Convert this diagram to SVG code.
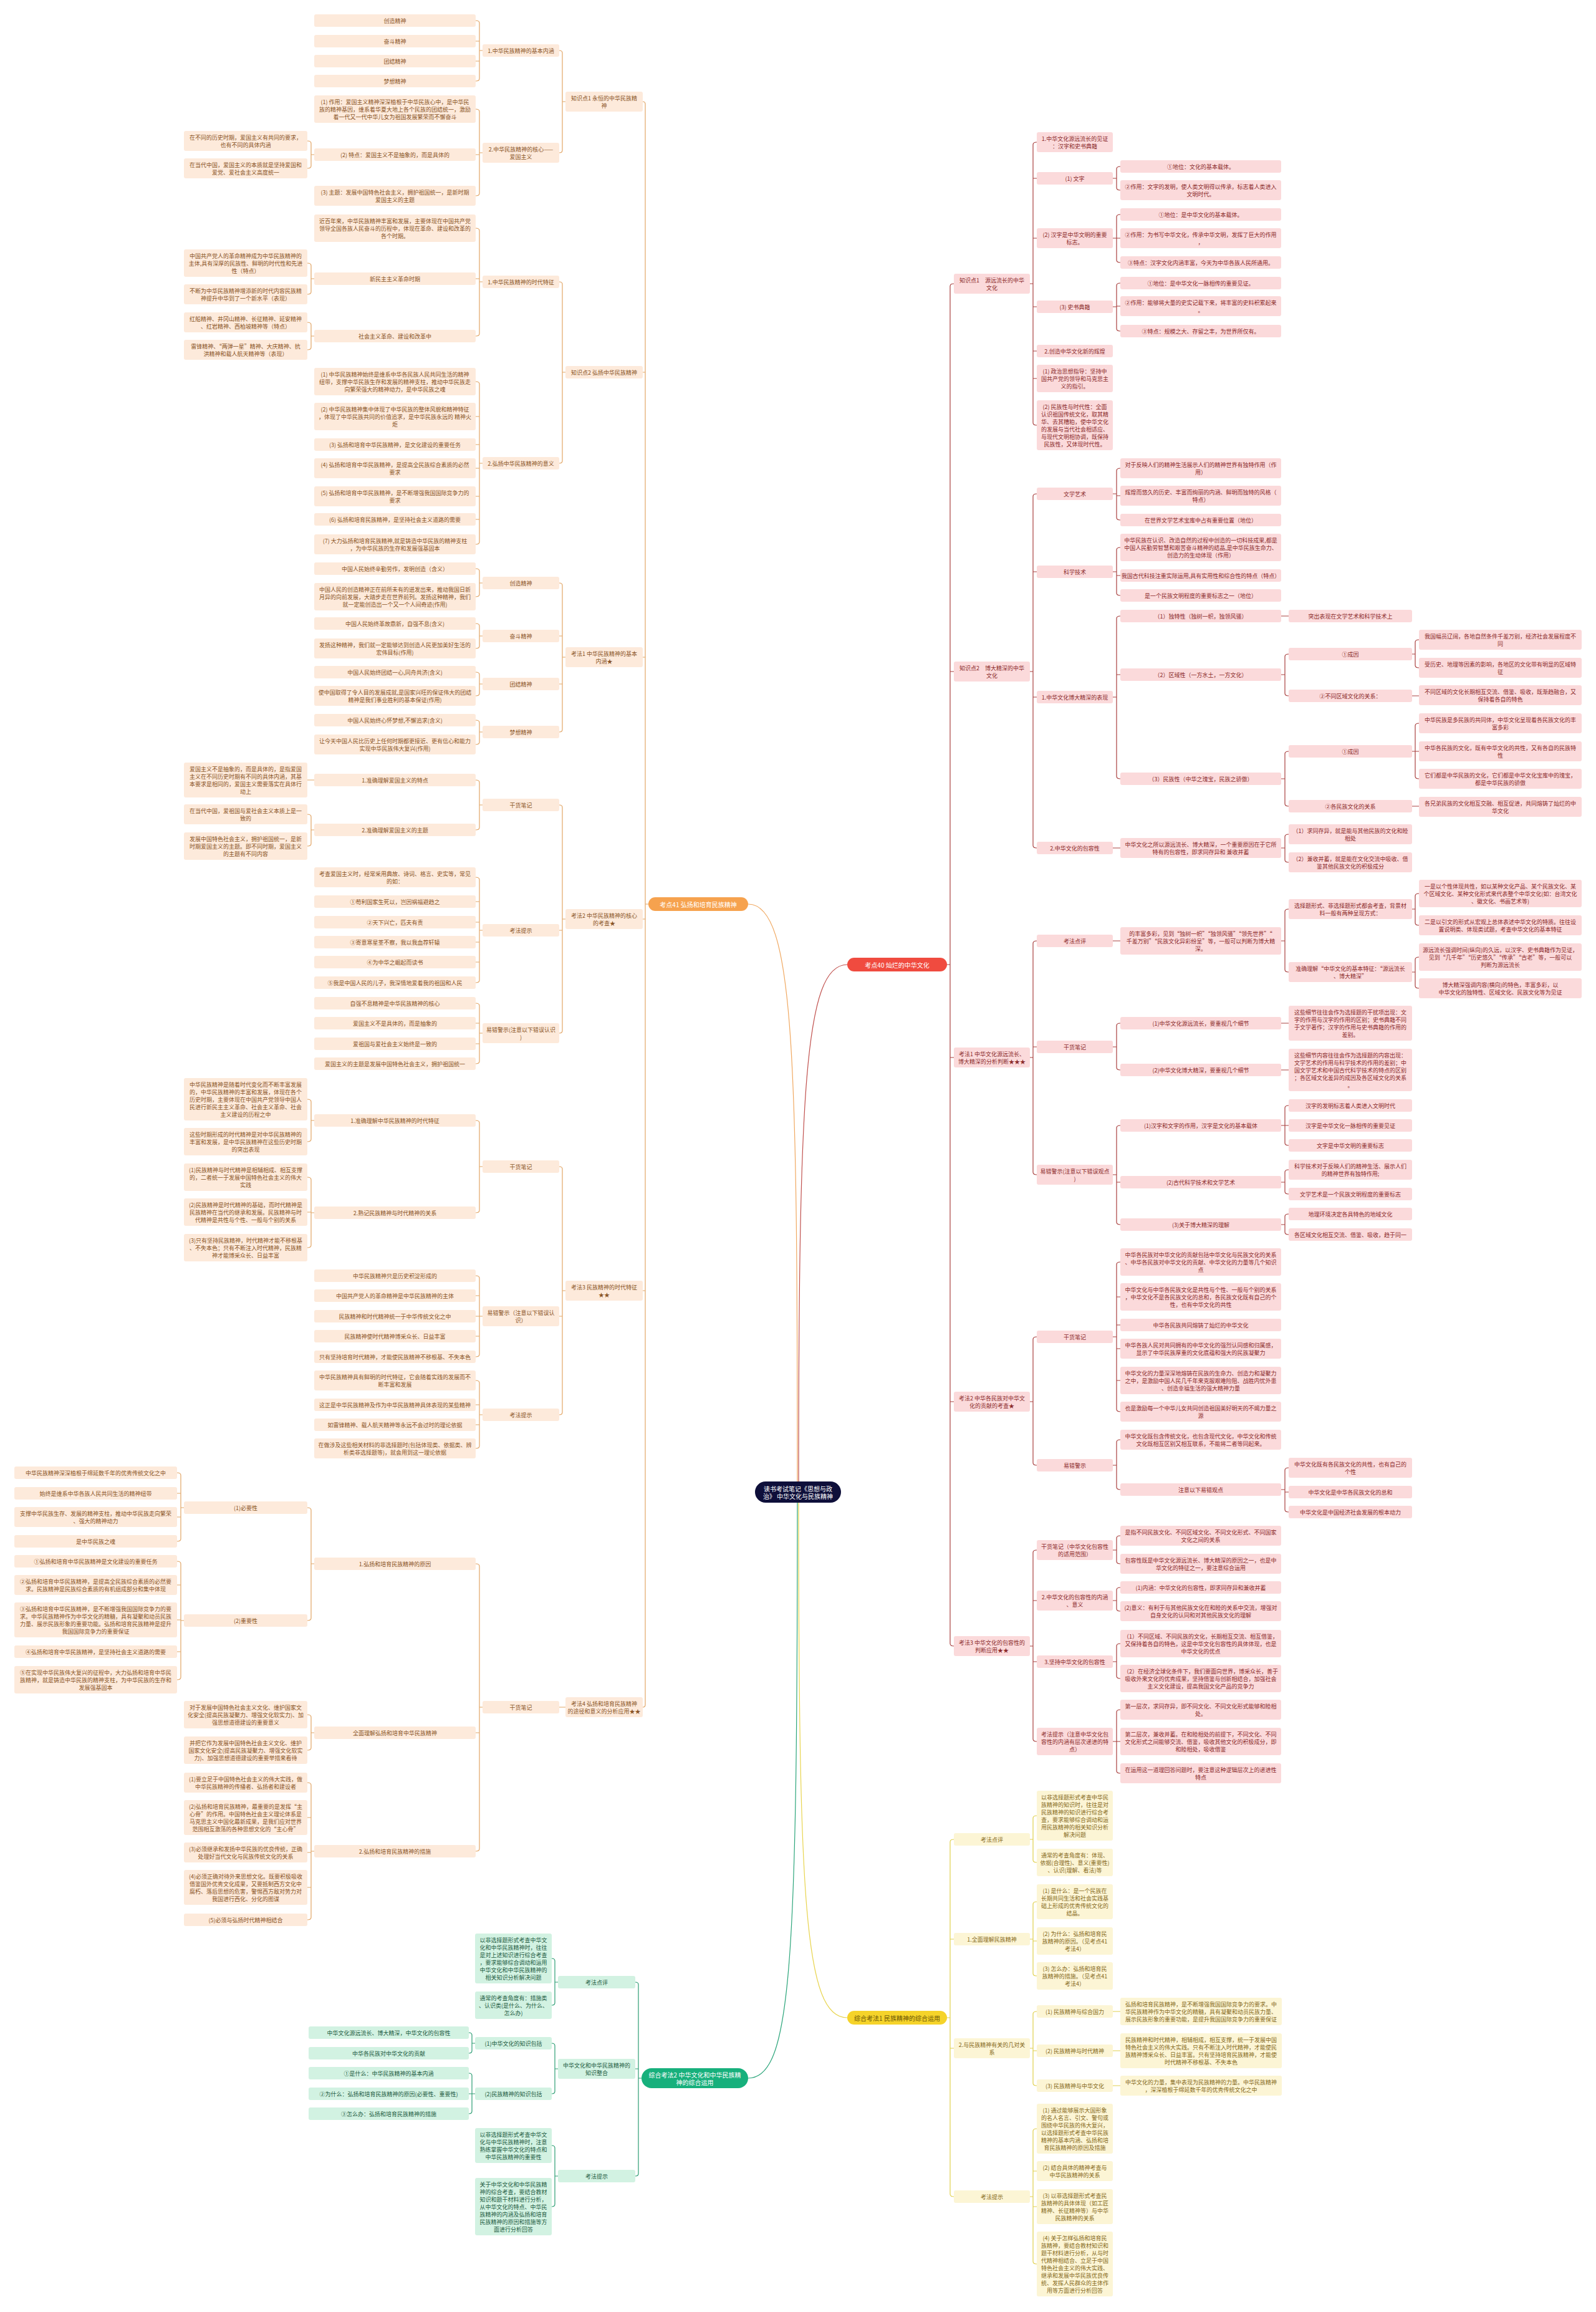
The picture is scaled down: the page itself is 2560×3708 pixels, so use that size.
<svg xmlns="http://www.w3.org/2000/svg" width="2560" height="3708" viewBox="0 0 2560 3708">
<style>
text{font-family:"Noto Sans CJK SC","Noto Sans",sans-serif;font-size:9px;text-anchor:middle;dominant-baseline:central}
.o rect{fill:#FDEADB;rx:3px}.o text{fill:#8A5426}
.r rect{fill:#FBDADB;rx:3px}.r text{fill:#8C2B2B}
.y rect{fill:#FCF5D5;rx:3px}.y text{fill:#86691A}
.g rect{fill:#D2F2E2;rx:3px}.g text{fill:#1C5A41}
.m text{font-size:10px;fill:#fff}
#connectors path{fill:none;stroke-width:1.2}
.lo{stroke:#E2A565}.lr{stroke:#A9403F}.ly{stroke:#E0D04C}.lg{stroke:#2C9D73}
</style>
<rect width="2560" height="3708" fill="#fff"/>
<g id="connectors">
<path d="M1279,2393C1279,1700 1275,1450 1200,1450" stroke="#F0A860"/>
<path d="M1281,2393C1281,1750 1290,1547 1359,1547" stroke="#C0504D"/>
<path d="M1281,2393C1281,3050 1290,3236 1359,3236" stroke="#E8D44D"/>
<path d="M1279,2393C1279,3150 1270,3333 1200,3333" stroke="#2BA57A"/>
<path class="lo" d="M1040,1450H1035M1031,163Q1035,163 1035,167V2734Q1035,2738 1031,2738M1035,597H1031M1035,1054H1031M1035,1474H1031M1035,2070H1031"/>
<path class="lo" d="M907,163H902M897,81Q902,81 902,85V241Q902,245 897,245M907,597H902M897,452Q902,452 902,456V739Q902,743 897,743M907,1054H902M897,935Q902,935 902,939V1170Q902,1174 897,1174M902,1020H897M902,1097H897M907,1474H902M897,1291Q902,1291 902,1295V1653Q902,1657 897,1657M902,1492H897M907,2070H902M897,1871Q902,1871 902,1875V2265Q902,2269 897,2269M902,2111H897M907,2738H897"/>
<path class="lo" d="M774,81H769M763,33Q769,33 769,37V126Q769,130 763,130M769,66H763M769,98H763M774,245H769M763,175Q769,175 769,179V310Q769,314 763,314M769,248H763M774,452H769M763,366Q769,366 769,370V535Q769,539 763,539M769,447H763M774,743H769M763,612Q769,612 769,616V869Q769,873 763,873M769,668H763M769,713H763M769,751H763M769,796H763M769,833H763M774,935H769M763,912Q769,912 769,916V953Q769,957 763,957M774,1020H769M763,1000Q769,1000 769,1004V1036Q769,1040 763,1040M774,1097H769M763,1078Q769,1078 769,1082V1112Q769,1116 763,1116M774,1174H769M763,1155Q769,1155 769,1159V1190Q769,1194 763,1194M774,1291H769M763,1251Q769,1251 769,1255V1327Q769,1331 763,1331M774,1492H769M763,1407Q769,1407 769,1411V1572Q769,1576 763,1576M769,1446H763M769,1479H763M769,1511H763M769,1543H763M774,1657H769M763,1609Q769,1609 769,1613V1702Q769,1706 763,1706M769,1641H763M769,1674H763M774,1871H769M763,1797Q769,1797 769,1801V1941Q769,1945 763,1945M774,2111H769M763,2046Q769,2046 769,2050V2172Q769,2176 763,2176M769,2078H763M769,2111H763M769,2143H763M774,2269H769M763,2214Q769,2214 769,2218V2319Q769,2323 763,2323M769,2253H763M769,2285H763M775,2738H769M763,2508Q769,2508 769,2512V2965Q769,2969 763,2969M769,2779H763"/>
<path class="lo" d="M504,248H499M493,226Q499,226 499,230V266Q499,270 493,270M504,447H499M493,422Q499,422 499,426V468Q499,472 493,472M504,539H499M493,517Q499,517 499,521V557Q499,561 493,561M504,1251H493M504,1331H499M493,1306Q499,1306 499,1310V1353Q499,1357 493,1357M504,1797H499M493,1763Q499,1763 499,1767V1827Q499,1831 493,1831M504,1945H499M493,1888Q499,1888 499,1892V1997Q499,2001 493,2001M499,1944H493M504,2508H499M493,2418Q499,2418 499,2422V2595Q499,2599 493,2599M504,2779H499M493,2750Q499,2750 499,2754V2803Q499,2807 493,2807M504,2969H499M493,2859Q499,2859 499,2863V3075Q499,3079 493,3079M499,2915H493M499,2971H493M499,3027H493"/>
<path class="lo" d="M295,2418H290M284,2362Q290,2362 290,2366V2468Q290,2472 284,2472M290,2395H284M290,2433H284M295,2599H290M284,2504Q290,2504 290,2508V2690Q290,2694 284,2694M290,2542H284M290,2598H284M290,2649H284"/>
<path class="lr" d="M1519,1547H1524M1530,455Q1524,455 1524,459V2636Q1524,2640 1530,2640M1524,1077H1530M1524,1696H1530M1524,2248H1530"/>
<path class="lr" d="M1652,455H1657M1663,228Q1657,228 1657,232V678Q1657,682 1663,682M1657,286H1663M1657,382H1663M1657,492H1663M1657,563H1663M1657,607H1663M1652,1077H1657M1663,792Q1657,792 1657,796V1356Q1657,1360 1663,1360M1657,917H1663M1657,1118H1663M1652,1696H1657M1663,1509Q1657,1509 1657,1513V1880Q1657,1884 1663,1884M1657,1679H1663M1652,2248H1657M1663,2144Q1657,2144 1657,2148V2346Q1657,2350 1663,2350M1652,2640H1657M1663,2486Q1657,2486 1657,2490V2789Q1657,2793 1663,2793M1657,2567H1663M1657,2665H1663"/>
<path class="lr" d="M1785,286H1791M1797,267Q1791,267 1791,271V301Q1791,305 1797,305M1785,382H1791M1797,344Q1791,344 1791,348V417Q1791,421 1797,421M1791,382H1797M1785,492H1791M1797,454Q1791,454 1791,458V527Q1791,531 1797,531M1791,491H1797M1785,792H1791M1797,751Q1791,751 1791,755V830Q1791,834 1797,834M1791,795H1797M1785,917H1791M1797,878Q1791,878 1791,882V951Q1791,955 1797,955M1791,923H1797M1785,1118H1791M1797,988Q1791,988 1791,992V1245Q1791,1249 1797,1249M1791,1082H1797M1785,1360H1797M1785,1509H1797M1785,1679H1791M1797,1641Q1791,1641 1791,1645V1712Q1791,1716 1797,1716M1785,1884H1791M1797,1805Q1791,1805 1791,1809V1960Q1791,1964 1797,1964M1791,1896H1797M1785,2144H1791M1797,2024Q1791,2024 1791,2028V2260Q1791,2264 1797,2264M1791,2080H1797M1791,2125H1797M1791,2163H1797M1791,2214H1797M1785,2350H1791M1797,2309Q1791,2309 1791,2313V2385Q1791,2389 1797,2389M1785,2486H1791M1797,2463Q1791,2463 1791,2467V2504Q1791,2508 1797,2508M1785,2567H1791M1797,2546Q1791,2546 1791,2550V2580Q1791,2584 1797,2584M1785,2665H1791M1797,2636Q1791,2636 1791,2640V2688Q1791,2692 1797,2692M1785,2793H1791M1797,2742Q1791,2742 1791,2746V2840Q1791,2844 1797,2844M1791,2793H1797"/>
<path class="lr" d="M2055,988H2067M2055,1082H2061M2067,1049Q2061,1049 2061,1053V1112Q2061,1116 2067,1116M2055,1249H2061M2067,1205Q2061,1205 2061,1209V1289Q2061,1293 2067,1293M2055,1360H2061M2067,1338Q2061,1338 2061,1342V1379Q2061,1383 2067,1383M2055,1509H2061M2067,1458Q2061,1458 2061,1462V1555Q2061,1559 2067,1559M2055,1641H2067M2055,1716H2067M2055,1805H2061M2067,1773Q2061,1773 2061,1777V1833Q2061,1837 2067,1837M2061,1805H2067M2055,1896H2061M2067,1876Q2061,1876 2061,1880V1911Q2061,1915 2067,1915M2055,1964H2061M2067,1947Q2061,1947 2061,1951V1976Q2061,1980 2067,1980M2055,2389H2061M2067,2354Q2061,2354 2061,2358V2421Q2061,2425 2067,2425M2061,2393H2067"/>
<path class="lr" d="M2265,1049H2270M2276,1026Q2270,1026 2270,1030V1067Q2270,1071 2276,1071M2265,1116H2276M2265,1205H2270M2276,1160Q2270,1160 2270,1164V1245Q2270,1249 2276,1249M2270,1205H2276M2265,1293H2276M2265,1458H2270M2276,1433Q2270,1433 2270,1437V1480Q2270,1484 2276,1484M2265,1559H2270M2276,1535Q2270,1535 2270,1539V1581Q2270,1585 2276,1585"/>
<path class="ly" d="M1519,3236H1524M1530,2950Q1524,2950 1524,2954V3519Q1524,3523 1530,3523M1524,3110H1530M1524,3285H1530M1652,2950H1657M1663,2912Q1657,2912 1657,2916V2983Q1657,2987 1663,2987M1652,3110H1657M1663,3050Q1657,3050 1657,3054V3165Q1657,3169 1663,3169M1657,3113H1663M1652,3285H1657M1663,3226Q1657,3226 1657,3230V3341Q1657,3345 1663,3345M1657,3289H1663M1652,3523H1657M1663,3414Q1657,3414 1657,3418V3627Q1657,3631 1663,3631M1657,3482H1663M1657,3539H1663M1785,3226H1797M1785,3289H1797M1785,3345H1797"/>
<path class="lg" d="M1029,3333H1024M1019,3179Q1024,3179 1024,3183V3486Q1024,3490 1019,3490M1024,3318H1019M895,3179H890M885,3141Q890,3141 890,3145V3212Q890,3216 885,3216M895,3318H890M885,3277Q890,3277 890,3281V3354Q890,3358 885,3358M895,3490H890M885,3441Q890,3441 890,3445V3535Q890,3539 885,3539M762,3277H757M752,3260Q757,3260 757,3264V3289Q757,3293 752,3293M762,3358H757M752,3325Q757,3325 757,3329V3386Q757,3390 752,3390M757,3358H752"/>
</g>
<g id="center" class="m"><rect x="1211" y="2376" width="138" height="34" rx="17" fill="#0E0F3A"/><text><tspan x="1280" y="2387">读书考试笔记《思想与政</tspan><tspan x="1280" y="2399">治》 中华文化与民族精神</tspan></text></g>
<g id="main-o" class="m"><rect x="1040" y="1439" width="160" height="22" rx="11" fill="#F6A24E"/><text x="1120" y="1450">考点41  弘扬和培育民族精神</text></g>
<g id="main-r" class="m"><rect x="1359" y="1536" width="160" height="22" rx="11" fill="#F04B3F"/><text x="1439" y="1547">考点40  灿烂的中华文化</text></g>
<g id="main-y" class="m"><rect x="1359" y="3225" width="160" height="22" rx="11" fill="#F5D32A"/><text x="1439" y="3236" style="fill:#6B5605">综合考法1  民族精神的综合运用</text></g>
<g id="main-g" class="m"><rect x="1029" y="3317" width="171" height="32" rx="16" fill="#17B07C"/><text><tspan x="1114.5" y="3327">综合考法2  中华文化和中华民族精</tspan><tspan x="1114.5" y="3339">神的综合运用</tspan></text></g>

<g id="o-l1" class="o">
<g id="ok1"><rect x="907" y="147" width="124" height="32"/><text><tspan x="969" y="157">知识点1  永恒的中华民族精</tspan><tspan x="969" y="169">神</tspan></text></g>
<g id="ok2"><rect x="907" y="587" width="124" height="20"/><text x="969" y="597">知识点2  弘扬中华民族精神</text></g>
<g id="of1"><rect x="907" y="1038" width="124" height="32"/><text><tspan x="969" y="1048">考法1  中华民族精神的基本</tspan><tspan x="969" y="1060">内涵★</tspan></text></g>
<g id="of2"><rect x="907" y="1458" width="124" height="32"/><text><tspan x="969" y="1468">考法2  中华民族精神的核心</tspan><tspan x="969" y="1480">的考查★</tspan></text></g>
<g id="of3"><rect x="907" y="2054" width="124" height="32"/><text><tspan x="969" y="2064">考法3  民族精神的时代特征</tspan><tspan x="969" y="2076">★★</tspan></text></g>
<g id="of4"><rect x="907" y="2722" width="124" height="32"/><text><tspan x="969" y="2732">考法4  弘扬和培育民族精神</tspan><tspan x="969" y="2744">的途径和意义的分析应用★★</tspan></text></g>
</g>
<g id="o-l2" class="o">
<g id="o2a"><rect x="774" y="71" width="123" height="20"/><text x="835.5" y="81">1.中华民族精神的基本内涵</text></g>
<g id="o2b"><rect x="774" y="229" width="123" height="32"/><text><tspan x="835.5" y="239">2.中华民族精神的核心——</tspan><tspan x="835.5" y="251">爱国主义</tspan></text></g>
<g id="o2c"><rect x="774" y="442" width="123" height="20"/><text x="835.5" y="452">1.中华民族精神的时代特征</text></g>
<g id="o2d"><rect x="774" y="733" width="123" height="20"/><text x="835.5" y="743">2.弘扬中华民族精神的意义</text></g>
<g id="o2e"><rect x="774" y="925" width="123" height="20"/><text x="835.5" y="935">创造精神</text></g>
<g id="o2f"><rect x="774" y="1010" width="123" height="20"/><text x="835.5" y="1020">奋斗精神</text></g>
<g id="o2g"><rect x="774" y="1087" width="123" height="20"/><text x="835.5" y="1097">团结精神</text></g>
<g id="o2h"><rect x="774" y="1164" width="123" height="20"/><text x="835.5" y="1174">梦想精神</text></g>
<g id="o2i"><rect x="774" y="1281" width="123" height="20"/><text x="835.5" y="1291">干货笔记</text></g>
<g id="o2j"><rect x="774" y="1482" width="123" height="20"/><text x="835.5" y="1492">考法提示</text></g>
<g id="o2k"><rect x="774" y="1641" width="123" height="32"/><text><tspan x="835.5" y="1651">易错警示(注意以下错误认识</tspan><tspan x="835.5" y="1663">)</tspan></text></g>
<g id="o2l"><rect x="774" y="1861" width="123" height="20"/><text x="835.5" y="1871">干货笔记</text></g>
<g id="o2m"><rect x="774" y="2095" width="123" height="32"/><text><tspan x="835.5" y="2105">易错警示（注意以下错误认</tspan><tspan x="835.5" y="2117">识）</tspan></text></g>
<g id="o2n"><rect x="774" y="2259" width="123" height="20"/><text x="835.5" y="2269">考法提示</text></g>
<g id="o2o"><rect x="774" y="2728" width="123" height="20"/><text x="835.5" y="2738">干货笔记</text></g>
</g>
<g id="o-l3" class="o">
<g id="o3-1"><rect x="504" y="23" width="259" height="20"/><text x="633.5" y="33">创造精神</text></g>
<g id="o3-2"><rect x="504" y="56" width="259" height="20"/><text x="633.5" y="66">奋斗精神</text></g>
<g id="o3-3"><rect x="504" y="88" width="259" height="20"/><text x="633.5" y="98">团结精神</text></g>
<g id="o3-4"><rect x="504" y="120" width="259" height="20"/><text x="633.5" y="130">梦想精神</text></g>
<g id="o3-5"><rect x="504" y="153" width="259" height="44"/><text><tspan x="633.5" y="163">(1) 作用：爱国主义精神深深植根于中华民族心中，是中华民</tspan><tspan x="633.5" y="175">族的精神基因，维系着华夏大地上各个民族的团结统一，激励</tspan><tspan x="633.5" y="187">着一代又一代中华儿女为祖国发展繁荣而不懈奋斗</tspan></text></g>
<g id="o3-6"><rect x="504" y="238" width="259" height="20"/><text x="633.5" y="248">(2) 特点：爱国主义不是抽象的，而是具体的</text></g>
<g id="o3-7"><rect x="504" y="298" width="259" height="32"/><text><tspan x="633.5" y="308">(3) 主题：发展中国特色社会主义，拥护祖国统一，是新时期</tspan><tspan x="633.5" y="320">爱国主义的主题</tspan></text></g>
<g id="o3-8"><rect x="504" y="344" width="259" height="44"/><text><tspan x="633.5" y="354">近百年来，中华民族精神丰富和发展，主要体现在中国共产党</tspan><tspan x="633.5" y="366">领导全国各族人民奋斗的历程中，体现在革命、建设和改革的</tspan><tspan x="633.5" y="378">各个时期。</tspan></text></g>
<g id="o3-9"><rect x="504" y="437" width="259" height="20"/><text x="633.5" y="447">新民主主义革命时期</text></g>
<g id="o3-10"><rect x="504" y="529" width="259" height="20"/><text x="633.5" y="539">社会主义革命、建设和改革中</text></g>
<g id="o3-11"><rect x="504" y="590" width="259" height="44"/><text><tspan x="633.5" y="600">(1) 中华民族精神始终是维系中华各民族人民共同生活的精神</tspan><tspan x="633.5" y="612">纽带，支撑中华民族生存和发展的精神支柱，推动中华民族走</tspan><tspan x="633.5" y="624">向繁荣强大的精神动力，是中华民族之魂</tspan></text></g>
<g id="o3-12"><rect x="504" y="646" width="259" height="44"/><text><tspan x="633.5" y="656">(2) 中华民族精神集中体现了中华民族的整体风貌和精神特征</tspan><tspan x="633.5" y="668">，体现了中华民族共同的价值追求，是中华民族永远的 精神火</tspan><tspan x="633.5" y="680">炬</tspan></text></g>
<g id="o3-13"><rect x="504" y="703" width="259" height="20"/><text x="633.5" y="713">(3) 弘扬和培育中华民族精神，是文化建设的重要任务</text></g>
<g id="o3-14"><rect x="504" y="735" width="259" height="32"/><text><tspan x="633.5" y="745">(4) 弘扬和培育中华民族精神，是提高全民族综合素质的必然</tspan><tspan x="633.5" y="757">要求</tspan></text></g>
<g id="o3-15"><rect x="504" y="780" width="259" height="32"/><text><tspan x="633.5" y="790">(5) 弘扬和培育中华民族精神，是不断增强我国国际竞争力的</tspan><tspan x="633.5" y="802">要求</tspan></text></g>
<g id="o3-16"><rect x="504" y="823" width="259" height="20"/><text x="633.5" y="833">(6) 弘扬和培育民族精神，是坚持社会主义道路的需要</text></g>
<g id="o3-17"><rect x="504" y="857" width="259" height="32"/><text><tspan x="633.5" y="867">(7) 大力弘扬和培育民族精神,就是铸造中华民族的精神支柱</tspan><tspan x="633.5" y="879">，为中华民族的生存和发展强基固本</tspan></text></g>
<g id="o3-18"><rect x="504" y="902" width="259" height="20"/><text x="633.5" y="912">中国人民始终辛勤劳作，发明创造（含义）</text></g>
<g id="o3-19"><rect x="504" y="935" width="259" height="44"/><text><tspan x="633.5" y="945">中国人民的创造精神正在前所未有的迸发出来，推动我国日新</tspan><tspan x="633.5" y="957">月异的向前发展，大踏步走在世界前列。发扬这种精神，我们</tspan><tspan x="633.5" y="969">就一定能创造出一个又一个人间奇迹(作用)</tspan></text></g>
<g id="o3-20"><rect x="504" y="990" width="259" height="20"/><text x="633.5" y="1000">中国人民始终革故鼎新，自强不息(含义)</text></g>
<g id="o3-21"><rect x="504" y="1024" width="259" height="32"/><text><tspan x="633.5" y="1034">发扬这种精神，我们就一定能够达到创造人民更加美好生活的</tspan><tspan x="633.5" y="1046">宏伟目标(作用)</tspan></text></g>
<g id="o3-22"><rect x="504" y="1068" width="259" height="20"/><text x="633.5" y="1078">中国人民始终团结一心,同舟共济(含义)</text></g>
<g id="o3-23"><rect x="504" y="1100" width="259" height="32"/><text><tspan x="633.5" y="1110">使中国取得了令人目的发展成就,是国家兴旺的保证伟大的团结</tspan><tspan x="633.5" y="1122">精神是我们事业胜利的基本保证(作用)</tspan></text></g>
<g id="o3-24"><rect x="504" y="1145" width="259" height="20"/><text x="633.5" y="1155">中国人民始终心怀梦想,不懈追求(含义)</text></g>
<g id="o3-25"><rect x="504" y="1178" width="259" height="32"/><text><tspan x="633.5" y="1188">让今天中国人民比历史上任何时期都更接近、更有信心和能力</tspan><tspan x="633.5" y="1200">实现中华民族伟大复兴(作用)</tspan></text></g>
<g id="o3-26"><rect x="504" y="1241" width="259" height="20"/><text x="633.5" y="1251">1.准确理解爱国主义的特点</text></g>
<g id="o3-27"><rect x="504" y="1321" width="259" height="20"/><text x="633.5" y="1331">2.准确理解爱国主义的主题</text></g>
<g id="o3-28"><rect x="504" y="1391" width="259" height="32"/><text><tspan x="633.5" y="1401">考查爱国主义时，经常采用典故、诗词、格言、史实等，常见</tspan><tspan x="633.5" y="1413">的如：</tspan></text></g>
<g id="o3-29"><rect x="504" y="1436" width="259" height="20"/><text x="633.5" y="1446">①苟利国家生死以，岂因祸福避趋之</text></g>
<g id="o3-30"><rect x="504" y="1469" width="259" height="20"/><text x="633.5" y="1479">②天下兴亡，匹夫有责</text></g>
<g id="o3-31"><rect x="504" y="1501" width="259" height="20"/><text x="633.5" y="1511">③寄意寒星荃不察，我以我血荐轩辕</text></g>
<g id="o3-32"><rect x="504" y="1533" width="259" height="20"/><text x="633.5" y="1543">④为中华之崛起而读书</text></g>
<g id="o3-33"><rect x="504" y="1566" width="259" height="20"/><text x="633.5" y="1576">⑤我是中国人民的儿子，我深情地爱着我的祖国和人民</text></g>
<g id="o3-34"><rect x="504" y="1599" width="259" height="20"/><text x="633.5" y="1609">自强不息精神是中华民族精神的核心</text></g>
<g id="o3-35"><rect x="504" y="1631" width="259" height="20"/><text x="633.5" y="1641">爱国主义不是具体的，而是抽象的</text></g>
<g id="o3-36"><rect x="504" y="1664" width="259" height="20"/><text x="633.5" y="1674">爱祖国与爱社会主义始终是一致的</text></g>
<g id="o3-37"><rect x="504" y="1696" width="259" height="20"/><text x="633.5" y="1706">爱国主义的主题是发展中国特色社会主义，拥护祖国统一</text></g>
<g id="o3-38"><rect x="504" y="1787" width="259" height="20"/><text x="633.5" y="1797">1.准确理解中华民族精神的时代特征</text></g>
<g id="o3-39"><rect x="504" y="1935" width="259" height="20"/><text x="633.5" y="1945">2.熟记民族精神与时代精神的关系</text></g>
<g id="o3-40"><rect x="504" y="2036" width="259" height="20"/><text x="633.5" y="2046">中华民族精神只是历史积淀形成的</text></g>
<g id="o3-41"><rect x="504" y="2068" width="259" height="20"/><text x="633.5" y="2078">中国共产党人的革命精神是中华民族精神的主体</text></g>
<g id="o3-42"><rect x="504" y="2101" width="259" height="20"/><text x="633.5" y="2111">民族精神和时代精神统一于中华传统文化之中</text></g>
<g id="o3-43"><rect x="504" y="2133" width="259" height="20"/><text x="633.5" y="2143">民族精神使时代精神博采众长、日益丰富</text></g>
<g id="o3-44"><rect x="504" y="2166" width="259" height="20"/><text x="633.5" y="2176">只有坚持培育时代精神，才能使民族精神不移根基、不失本色</text></g>
<g id="o3-45"><rect x="504" y="2198" width="259" height="32"/><text><tspan x="633.5" y="2208">中华民族精神具有鲜明的时代特征，它会随着实践的发展而不</tspan><tspan x="633.5" y="2220">断丰富和发展</tspan></text></g>
<g id="o3-46"><rect x="504" y="2243" width="259" height="20"/><text x="633.5" y="2253">这正是中华民族精神及作为中华民族精神具体表现的某些精神</text></g>
<g id="o3-47"><rect x="504" y="2275" width="259" height="20"/><text x="633.5" y="2285">如雷锋精神、载人航天精神等永远不会过时的理论依据</text></g>
<g id="o3-48"><rect x="504" y="2307" width="259" height="32"/><text><tspan x="633.5" y="2317">在做涉及这些相关材料的非选择题时(包括体现类、依据类、辨</tspan><tspan x="633.5" y="2329">析类非选择题等)，就会用到这一理论依据</tspan></text></g>
<g id="o3-49"><rect x="504" y="2498" width="259" height="20"/><text x="633.5" y="2508">1.弘扬和培育民族精神的原因</text></g>
<g id="o3-50"><rect x="504" y="2769" width="259" height="20"/><text x="633.5" y="2779">全面理解弘扬和培育中华民族精神</text></g>
<g id="o3-51"><rect x="504" y="2959" width="259" height="20"/><text x="633.5" y="2969">2.弘扬和培育民族精神的措施</text></g>
</g>
<g id="o-l4" class="o">
<g id="o4-1"><rect x="295" y="210" width="198" height="32"/><text><tspan x="394" y="220">在不同的历史时期，爱国主义有共同的要求，</tspan><tspan x="394" y="232">也有不同的具体内涵</tspan></text></g>
<g id="o4-2"><rect x="295" y="254" width="198" height="32"/><text><tspan x="394" y="264">在当代中国，爱国主义的本质就是坚持爱国和</tspan><tspan x="394" y="276">爱党、爱社会主义高度统一</tspan></text></g>
<g id="o4-3"><rect x="295" y="400" width="198" height="44"/><text><tspan x="394" y="410">中国共产党人的革命精神成为中华民族精神的</tspan><tspan x="394" y="422">主体,具有深厚的民族性、鲜明的时代性和先进</tspan><tspan x="394" y="434">性（特点）</tspan></text></g>
<g id="o4-4"><rect x="295" y="456" width="198" height="32"/><text><tspan x="394" y="466">不断为中华民族精神增添新的时代内容民族精</tspan><tspan x="394" y="478">神提升中华到了一个新水平（表现）</tspan></text></g>
<g id="o4-5"><rect x="295" y="501" width="198" height="32"/><text><tspan x="394" y="511">红船精神、井冈山精神、长征精神、延安精神</tspan><tspan x="394" y="523">、红岩精神、西柏坡精神等（特点）</tspan></text></g>
<g id="o4-6"><rect x="295" y="545" width="198" height="32"/><text><tspan x="394" y="555">雷锋精神、“两弹一星”精神、大庆精神、抗</tspan><tspan x="394" y="567">洪精神和载人航天精神等（表现）</tspan></text></g>
<g id="o4-7"><rect x="295" y="1223" width="198" height="56"/><text><tspan x="394" y="1233">爱国主义不是抽象的，而是具体的，是指爱国</tspan><tspan x="394" y="1245">主义在不同历史时期有不同的具体内涵，其基</tspan><tspan x="394" y="1257">本要求是相同的，爱国主义需要落实在具体行</tspan><tspan x="394" y="1269">动上</tspan></text></g>
<g id="o4-8"><rect x="295" y="1290" width="198" height="32"/><text><tspan x="394" y="1300">在当代中国，爱祖国与爱社会主义本质上是一</tspan><tspan x="394" y="1312">致的</tspan></text></g>
<g id="o4-9"><rect x="295" y="1335" width="198" height="44"/><text><tspan x="394" y="1345">发展中国特色社会主义，拥护祖国统一，是新</tspan><tspan x="394" y="1357">时期爱国主义的主题。即不同时期，爱国主义</tspan><tspan x="394" y="1369">的主题有不同内容</tspan></text></g>
<g id="o4-10"><rect x="295" y="1729" width="198" height="68"/><text><tspan x="394" y="1739">中华民族精神是随着时代变化而不断丰富发展</tspan><tspan x="394" y="1751">的，中华民族精神的丰富和发展，体现在各个</tspan><tspan x="394" y="1763">历史时期，主要体现在中国共产党领导中国人</tspan><tspan x="394" y="1775">民进行新民主主义革命、社会主义革命、社会</tspan><tspan x="394" y="1787">主义建设的历程之中</tspan></text></g>
<g id="o4-11"><rect x="295" y="1809" width="198" height="44"/><text><tspan x="394" y="1819">这些时期形成的时代精神是对中华民族精神的</tspan><tspan x="394" y="1831">丰富和发展，是中华民族精神在这些历史时期</tspan><tspan x="394" y="1843">的突出表现</tspan></text></g>
<g id="o4-12"><rect x="295" y="1866" width="198" height="44"/><text><tspan x="394" y="1876">(1)民族精神与时代精神是相辅相成、相互支撑</tspan><tspan x="394" y="1888">的，二者统一于发展中国特色社会主义的伟大</tspan><tspan x="394" y="1900">实践</tspan></text></g>
<g id="o4-13"><rect x="295" y="1922" width="198" height="44"/><text><tspan x="394" y="1932">(2)民族精神是时代精神的基础，而时代精神是</tspan><tspan x="394" y="1944">民族精神在当代的继承和发展。民族精神与时</tspan><tspan x="394" y="1956">代精神是共性与个性、一般与个别的关系</tspan></text></g>
<g id="o4-14"><rect x="295" y="1979" width="198" height="44"/><text><tspan x="394" y="1989">(3)只有坚持民族精神，时代精神才能不移根基</tspan><tspan x="394" y="2001">、不失本色；只有不断注入时代精神，民族精</tspan><tspan x="394" y="2013">神才能博采众长、日益丰富</tspan></text></g>
<g id="o4-15"><rect x="295" y="2408" width="198" height="20"/><text x="394" y="2418">(1)必要性</text></g>
<g id="o4-16"><rect x="295" y="2589" width="198" height="20"/><text x="394" y="2599">(2)重要性</text></g>
<g id="o4-17"><rect x="295" y="2728" width="198" height="44"/><text><tspan x="394" y="2738">对于发展中国特色社会主义文化、维护国家文</tspan><tspan x="394" y="2750">化安全(提高民族凝聚力、增强文化软实力)、加</tspan><tspan x="394" y="2762">强思想道德建设的重要意义</tspan></text></g>
<g id="o4-18"><rect x="295" y="2785" width="198" height="44"/><text><tspan x="394" y="2795">并把它作为发展中国特色社会主义文化、维护</tspan><tspan x="394" y="2807">国家文化安全(提高民族凝聚力、增强文化软实</tspan><tspan x="394" y="2819">力)、加强思想道德建设的重要举措来看待</tspan></text></g>
<g id="o4-19"><rect x="295" y="2843" width="198" height="32"/><text><tspan x="394" y="2853">(1)要立足于中国特色社会主义的伟大实践，做</tspan><tspan x="394" y="2865">中华民族精神的传播者、弘扬者和建设者</tspan></text></g>
<g id="o4-20"><rect x="295" y="2887" width="198" height="56"/><text><tspan x="394" y="2897">(2)弘扬和培育民族精神，最重要的是发挥“主</tspan><tspan x="394" y="2909">心骨”的作用。中国特色社会主义理论体系是</tspan><tspan x="394" y="2921">马克思主义中国化最新成果，是我们应对世界</tspan><tspan x="394" y="2933">范围相互激荡的各种思想文化的“主心骨”</tspan></text></g>
<g id="o4-21"><rect x="295" y="2955" width="198" height="32"/><text><tspan x="394" y="2965">(3)必须继承和发扬中华民族的优良传统，正确</tspan><tspan x="394" y="2977">处理好当代文化与民族传统文化的关系</tspan></text></g>
<g id="o4-22"><rect x="295" y="2999" width="198" height="56"/><text><tspan x="394" y="3009">(4)必须正确对待外来思想文化。既要积极吸收</tspan><tspan x="394" y="3021">借鉴国外优秀文化成果，又要抵制西方文化中</tspan><tspan x="394" y="3033">腐朽、落后思想的危害，警惕西方敌对势力对</tspan><tspan x="394" y="3045">我国进行西化、分化的图谋</tspan></text></g>
<g id="o4-23"><rect x="295" y="3069" width="198" height="20"/><text x="394" y="3079">(5)必须与弘扬时代精神相结合</text></g>
</g>
<g id="o-l5" class="o">
<g id="o5-1"><rect x="23" y="2352" width="261" height="20"/><text x="153.5" y="2362">中华民族精神深深植根于绵延数千年的优秀传统文化之中</text></g>
<g id="o5-2"><rect x="23" y="2385" width="261" height="20"/><text x="153.5" y="2395">始终是维系中华各族人民共同生活的精神纽带</text></g>
<g id="o5-3"><rect x="23" y="2417" width="261" height="32"/><text><tspan x="153.5" y="2427">支撑中华民族生存、发展的精神支柱，推动中华民族走向繁荣</tspan><tspan x="153.5" y="2439">、强大的精神动力</tspan></text></g>
<g id="o5-4"><rect x="23" y="2462" width="261" height="20"/><text x="153.5" y="2472">是中华民族之魂</text></g>
<g id="o5-5"><rect x="23" y="2494" width="261" height="20"/><text x="153.5" y="2504">①弘扬和培育中华民族精神是文化建设的重要任务</text></g>
<g id="o5-6"><rect x="23" y="2526" width="261" height="32"/><text><tspan x="153.5" y="2536">②弘扬和培育中华民族精神，是提高全民族综合素质的必然要</tspan><tspan x="153.5" y="2548">求。民族精神是民族综合素质的有机组成部分和集中体现</tspan></text></g>
<g id="o5-7"><rect x="23" y="2570" width="261" height="56"/><text><tspan x="153.5" y="2580">③弘扬和培育中华民族精神，是不断增强我国国际竞争力的要</tspan><tspan x="153.5" y="2592">求。中华民族精神作为中华文化的精髓，具有凝聚和动员民族</tspan><tspan x="153.5" y="2604">力量、展示民族形象的重要功能。弘扬和培育民族精神是提升</tspan><tspan x="153.5" y="2616">我国国际竞争力的重要保证</tspan></text></g>
<g id="o5-8"><rect x="23" y="2639" width="261" height="20"/><text x="153.5" y="2649">④弘扬和培育中华民族精神，是坚持社会主义道路的需要</text></g>
<g id="o5-9"><rect x="23" y="2672" width="261" height="44"/><text><tspan x="153.5" y="2682">⑤在实现中华民族伟大复兴的征程中，大力弘扬和培育中华民</tspan><tspan x="153.5" y="2694">族精神，就是铸造中华民族的精神支柱，为中华民族的生存和</tspan><tspan x="153.5" y="2706">发展强基固本</tspan></text></g>
</g>

<g id="r-l1" class="r">
<g id="rk1"><rect x="1530" y="439" width="122" height="32"/><text><tspan x="1591" y="449">知识点1　源远流长的中华</tspan><tspan x="1591" y="461">文化</tspan></text></g>
<g id="rk2"><rect x="1530" y="1061" width="122" height="32"/><text><tspan x="1591" y="1071">知识点2　博大精深的中华</tspan><tspan x="1591" y="1083">文化</tspan></text></g>
<g id="rf1"><rect x="1530" y="1680" width="122" height="32"/><text><tspan x="1591" y="1690">考法1  中华文化源远流长、</tspan><tspan x="1591" y="1702">博大精深的分析判断★★★</tspan></text></g>
<g id="rf2"><rect x="1530" y="2232" width="122" height="32"/><text><tspan x="1591" y="2242">考法2  中华各民族对中华文</tspan><tspan x="1591" y="2254">化的贡献的考查★</tspan></text></g>
<g id="rf3"><rect x="1530" y="2624" width="122" height="32"/><text><tspan x="1591" y="2634">考法3  中华文化的包容性的</tspan><tspan x="1591" y="2646">判断应用★★</tspan></text></g>
</g>
<g id="r-l2" class="r">
<g id="r2-1"><rect x="1663" y="212" width="122" height="32"/><text><tspan x="1724" y="222">1.中华文化源远流长的见证</tspan><tspan x="1724" y="234">：汉字和史书典籍</tspan></text></g>
<g id="r2-2"><rect x="1663" y="276" width="122" height="20"/><text x="1724" y="286">(1) 文字</text></g>
<g id="r2-3"><rect x="1663" y="366" width="122" height="32"/><text><tspan x="1724" y="376">(2) 汉字是中华文明的重要</tspan><tspan x="1724" y="388">标志。</tspan></text></g>
<g id="r2-4"><rect x="1663" y="482" width="122" height="20"/><text x="1724" y="492">(3) 史书典籍</text></g>
<g id="r2-5"><rect x="1663" y="553" width="122" height="20"/><text x="1724" y="563">2.创造中华文化新的辉煌</text></g>
<g id="r2-6"><rect x="1663" y="585" width="122" height="44"/><text><tspan x="1724" y="595">(1) 政治思想指导：坚持中</tspan><tspan x="1724" y="607">国共产党的领导和马克思主</tspan><tspan x="1724" y="619">义的指引。</tspan></text></g>
<g id="r2-7"><rect x="1663" y="642" width="122" height="80"/><text><tspan x="1724" y="652">(2) 民族性与时代性：全面</tspan><tspan x="1724" y="664">认识祖国传统文化，取其精</tspan><tspan x="1724" y="676">华、去其糟粕，使中华文化</tspan><tspan x="1724" y="688">的发展与当代社会相适应、</tspan><tspan x="1724" y="700">与现代文明相协调，既保持</tspan><tspan x="1724" y="712">民族性，又体现时代性。</tspan></text></g>
<g id="r2-8"><rect x="1663" y="782" width="122" height="20"/><text x="1724" y="792">文学艺术</text></g>
<g id="r2-9"><rect x="1663" y="907" width="122" height="20"/><text x="1724" y="917">科学技术</text></g>
<g id="r2-10"><rect x="1663" y="1108" width="122" height="20"/><text x="1724" y="1118">1.中华文化博大精深的表现</text></g>
<g id="r2-11"><rect x="1663" y="1350" width="122" height="20"/><text x="1724" y="1360">2.中华文化的包容性</text></g>
<g id="r2-12"><rect x="1663" y="1499" width="122" height="20"/><text x="1724" y="1509">考法点评</text></g>
<g id="r2-13"><rect x="1663" y="1669" width="122" height="20"/><text x="1724" y="1679">干货笔记</text></g>
<g id="r2-14"><rect x="1663" y="1868" width="122" height="32"/><text><tspan x="1724" y="1878">易错警示(注意以下错误观点</tspan><tspan x="1724" y="1890">)</tspan></text></g>
<g id="r2-15"><rect x="1663" y="2134" width="122" height="20"/><text x="1724" y="2144">干货笔记</text></g>
<g id="r2-16"><rect x="1663" y="2340" width="122" height="20"/><text x="1724" y="2350">易错警示</text></g>
<g id="r2-17"><rect x="1663" y="2470" width="122" height="32"/><text><tspan x="1724" y="2480">干货笔记（中华文化包容性</tspan><tspan x="1724" y="2492">的适用范围）</tspan></text></g>
<g id="r2-18"><rect x="1663" y="2551" width="122" height="32"/><text><tspan x="1724" y="2561">2.中华文化的包容性的内涵</tspan><tspan x="1724" y="2573">、意义</tspan></text></g>
<g id="r2-19"><rect x="1663" y="2655" width="122" height="20"/><text x="1724" y="2665">3.坚持中华文化的包容性</text></g>
<g id="r2-20"><rect x="1663" y="2771" width="122" height="44"/><text><tspan x="1724" y="2781">考法提示（注意中华文化包</tspan><tspan x="1724" y="2793">容性的内涵有层次递进的特</tspan><tspan x="1724" y="2805">点）</tspan></text></g>
</g>
<g id="r-l3" class="r">
<g id="r3-1"><rect x="1797" y="257" width="258" height="20"/><text x="1926" y="267">①地位：文化的基本载体。</text></g>
<g id="r3-2"><rect x="1797" y="289" width="258" height="32"/><text><tspan x="1926" y="299">②作用：文字的发明，使人类文明得以传承，标志着人类进入</tspan><tspan x="1926" y="311">文明时代。</tspan></text></g>
<g id="r3-3"><rect x="1797" y="334" width="258" height="20"/><text x="1926" y="344">①地位：是中华文化的基本载体。</text></g>
<g id="r3-4"><rect x="1797" y="366" width="258" height="32"/><text><tspan x="1926" y="376">②作用：为书写中华文化，传承中华文明，发挥了巨大的作用</tspan><tspan x="1926" y="388">，</tspan></text></g>
<g id="r3-5"><rect x="1797" y="411" width="258" height="20"/><text x="1926" y="421">③特点：汉字文化内涵丰富，今天为中华各族人民所通用。</text></g>
<g id="r3-6"><rect x="1797" y="444" width="258" height="20"/><text x="1926" y="454">①地位：是中华文化一脉相传的重要见证。</text></g>
<g id="r3-7"><rect x="1797" y="475" width="258" height="32"/><text><tspan x="1926" y="485">②作用：能够将大量的史实记载下来，将丰富的史料积累起来</tspan><tspan x="1926" y="497">。</tspan></text></g>
<g id="r3-8"><rect x="1797" y="521" width="258" height="20"/><text x="1926" y="531">③特点：规模之大、存留之丰，为世界所仅有。</text></g>
<g id="r3-9"><rect x="1797" y="735" width="258" height="32"/><text><tspan x="1926" y="745">对于反映人们的精神生活展示人们的精神世界有独特作用（作</tspan><tspan x="1926" y="757">用）</tspan></text></g>
<g id="r3-10"><rect x="1797" y="779" width="258" height="32"/><text><tspan x="1926" y="789">辉煌而悠久的历史、丰富而绚丽的内涵、鲜明而独特的风格（</tspan><tspan x="1926" y="801">特点）</tspan></text></g>
<g id="r3-11"><rect x="1797" y="824" width="258" height="20"/><text x="1926" y="834">在世界文学艺术宝库中占有重要位置（地位）</text></g>
<g id="r3-12"><rect x="1797" y="856" width="258" height="44"/><text><tspan x="1926" y="866">中华民族在认识、改造自然的过程中创造的一切科技成果,都是</tspan><tspan x="1926" y="878">中国人民勤劳智慧和艰苦奋斗精神的结晶,是中华民族生命力、</tspan><tspan x="1926" y="890">创造力的生动体现（作用）</tspan></text></g>
<g id="r3-13"><rect x="1797" y="913" width="258" height="20"/><text x="1926" y="923">我国古代科技注重实际运用,具有实用性和综合性的特点（特点）</text></g>
<g id="r3-14"><rect x="1797" y="945" width="258" height="20"/><text x="1926" y="955">是一个民族文明程度的重要标志之一（地位）</text></g>
<g id="r3-15"><rect x="1797" y="978" width="258" height="20"/><text x="1926" y="988">（1）独特性（独树一帜，独领风骚）</text></g>
<g id="r3-16"><rect x="1797" y="1072" width="258" height="20"/><text x="1926" y="1082">（2）区域性（一方水土，一方文化）</text></g>
<g id="r3-17"><rect x="1797" y="1239" width="258" height="20"/><text x="1926" y="1249">（3）民族性（中华之瑰宝，民族之骄傲）</text></g>
<g id="r3-18"><rect x="1797" y="1344" width="258" height="32"/><text><tspan x="1926" y="1354">中华文化之所以源远流长、博大精深，一个重要原因在于它所</tspan><tspan x="1926" y="1366">特有的包容性，即求同存异和 兼收并蓄</tspan></text></g>
<g id="r3-19"><rect x="1797" y="1487" width="258" height="44"/><text><tspan x="1926" y="1497">的丰富多彩，见到“独树一帜”“独领风骚”“领先世界”“</tspan><tspan x="1926" y="1509">千差万别”“民族文化异彩纷呈”等，一般可以判断为博大精</tspan><tspan x="1926" y="1521">深。</tspan></text></g>
<g id="r3-20"><rect x="1797" y="1631" width="258" height="20"/><text x="1926" y="1641">(1)中华文化源远流长，要重视几个细节</text></g>
<g id="r3-21"><rect x="1797" y="1706" width="258" height="20"/><text x="1926" y="1716">(2)中华文化博大精深，要重视几个细节</text></g>
<g id="r3-22"><rect x="1797" y="1795" width="258" height="20"/><text x="1926" y="1805">(1)汉字和文字的作用，汉字是文化的基本载体</text></g>
<g id="r3-23"><rect x="1797" y="1886" width="258" height="20"/><text x="1926" y="1896">(2)古代科学技术和文学艺术</text></g>
<g id="r3-24"><rect x="1797" y="1954" width="258" height="20"/><text x="1926" y="1964">(3)关于博大精深的理解</text></g>
<g id="r3-25"><rect x="1797" y="2002" width="258" height="44"/><text><tspan x="1926" y="2012">中华各民族对中华文化的贡献包括中华文化与民族文化的关系</tspan><tspan x="1926" y="2024">、中华各民族对中华文化的贡献、中华文化的力量等几个知识</tspan><tspan x="1926" y="2036">点</tspan></text></g>
<g id="r3-26"><rect x="1797" y="2058" width="258" height="44"/><text><tspan x="1926" y="2068">中华文化与中华各民族文化是共性与个性、一般与个别的关系</tspan><tspan x="1926" y="2080">，中华文化不是各民族文化的总和，各民族文化既有自己的个</tspan><tspan x="1926" y="2092">性，也有中华文化的共性</tspan></text></g>
<g id="r3-27"><rect x="1797" y="2115" width="258" height="20"/><text x="1926" y="2125">中华各民族共同熔铸了灿烂的中华文化</text></g>
<g id="r3-28"><rect x="1797" y="2147" width="258" height="32"/><text><tspan x="1926" y="2157">中华各族人民对共同拥有的中华文化的强烈认同感和归属感，</tspan><tspan x="1926" y="2169">显示了中华民族厚重的文化底蕴和强大的民族凝聚力</tspan></text></g>
<g id="r3-29"><rect x="1797" y="2192" width="258" height="44"/><text><tspan x="1926" y="2202">中华文化的力量深深地熔铸在民族的生命力、创造力和凝聚力</tspan><tspan x="1926" y="2214">之中，是激励中国人民几千年来克服艰难险阻、战胜内忧外患</tspan><tspan x="1926" y="2226">、创造幸福生活的强大精神力量</tspan></text></g>
<g id="r3-30"><rect x="1797" y="2248" width="258" height="32"/><text><tspan x="1926" y="2258">也是激励每一个中华儿女共同创造祖国美好明天的不竭力量之</tspan><tspan x="1926" y="2270">源</tspan></text></g>
<g id="r3-31"><rect x="1797" y="2293" width="258" height="32"/><text><tspan x="1926" y="2303">中华文化既包含传统文化，也包含现代文化，中华文化和传统</tspan><tspan x="1926" y="2315">文化既相互区别又相互联系，不能将二者等同起来。</tspan></text></g>
<g id="r3-32"><rect x="1797" y="2379" width="258" height="20"/><text x="1926" y="2389">注意以下易错观点</text></g>
<g id="r3-33"><rect x="1797" y="2447" width="258" height="32"/><text><tspan x="1926" y="2457">是指不同民族文化、不同区域文化、不同文化形式、不同国家</tspan><tspan x="1926" y="2469">文化之间的关系</tspan></text></g>
<g id="r3-34"><rect x="1797" y="2492" width="258" height="32"/><text><tspan x="1926" y="2502">包容性既是中华文化源远流长、博大精深的原因之一，也是中</tspan><tspan x="1926" y="2514">华文化的特征之一，要注意综合运用</tspan></text></g>
<g id="r3-35"><rect x="1797" y="2536" width="258" height="20"/><text x="1926" y="2546">(1)内涵：中华文化的包容性，即求同存异和兼收并蓄</text></g>
<g id="r3-36"><rect x="1797" y="2568" width="258" height="32"/><text><tspan x="1926" y="2578">(2)意义：有利于与其他民族文化在和睦的关系中交流，增强对</tspan><tspan x="1926" y="2590">自身文化的认同和对其他民族文化的理解</tspan></text></g>
<g id="r3-37"><rect x="1797" y="2614" width="258" height="44"/><text><tspan x="1926" y="2624">（1）不同区域、不同民族的文化，长期相互交流、相互借鉴，</tspan><tspan x="1926" y="2636">又保持着各自的特色，这是中华文化包容性的具体体现，也是</tspan><tspan x="1926" y="2648">中华文化的优点</tspan></text></g>
<g id="r3-38"><rect x="1797" y="2670" width="258" height="44"/><text><tspan x="1926" y="2680">（2）在经济全球化条件下，我们要面向世界，博采众长，善于</tspan><tspan x="1926" y="2692">吸收外来文化的优秀成果，坚持借鉴与创新相结合，加强社会</tspan><tspan x="1926" y="2704">主义文化建设，提高我国文化产品的竞争力</tspan></text></g>
<g id="r3-39"><rect x="1797" y="2726" width="258" height="32"/><text><tspan x="1926" y="2736">第一层次，求同存异，即不同文化、不同文化形式能够和睦相</tspan><tspan x="1926" y="2748">处。</tspan></text></g>
<g id="r3-40"><rect x="1797" y="2771" width="258" height="44"/><text><tspan x="1926" y="2781">第二层次，兼收并蓄。在和睦相处的前提下，不同文化、不同</tspan><tspan x="1926" y="2793">文化形式之间能够交流、借鉴，吸收其他文化的积极成分，即</tspan><tspan x="1926" y="2805">和睦相处，吸收借鉴</tspan></text></g>
<g id="r3-41"><rect x="1797" y="2828" width="258" height="32"/><text><tspan x="1926" y="2838">在运用这一道理回答问题时，要注意这种逻辑层次上的递进性</tspan><tspan x="1926" y="2850">特点</tspan></text></g>
</g>
<g id="r-l4" class="r">
<g id="r4-1"><rect x="2067" y="978" width="198" height="20"/><text x="2166" y="988">突出表现在文学艺术和科学技术上</text></g>
<g id="r4-2"><rect x="2067" y="1039" width="198" height="20"/><text x="2166" y="1049">①成因</text></g>
<g id="r4-3"><rect x="2067" y="1106" width="198" height="20"/><text x="2166" y="1116">②不同区域文化的关系：</text></g>
<g id="r4-4"><rect x="2067" y="1195" width="198" height="20"/><text x="2166" y="1205">①成因</text></g>
<g id="r4-5"><rect x="2067" y="1283" width="198" height="20"/><text x="2166" y="1293">②各民族文化的关系</text></g>
<g id="r4-6"><rect x="2067" y="1322" width="198" height="32"/><text><tspan x="2166" y="1332">（1）求同存异，就是能与其他民族的文化和睦</tspan><tspan x="2166" y="1344">相处</tspan></text></g>
<g id="r4-7"><rect x="2067" y="1367" width="198" height="32"/><text><tspan x="2166" y="1377">（2）兼收并蓄，就是能在文化交流中吸收、借</tspan><tspan x="2166" y="1389">鉴其他民族文化的积极成分</tspan></text></g>
<g id="r4-8"><rect x="2067" y="1442" width="198" height="32"/><text><tspan x="2166" y="1452">选择题形式、非选择题形式都会考查，背景材</tspan><tspan x="2166" y="1464">料一般有两种呈现方式：</tspan></text></g>
<g id="r4-9"><rect x="2067" y="1543" width="198" height="32"/><text><tspan x="2166" y="1553">准确理解“中华文化的基本特征：“源远流长</tspan><tspan x="2166" y="1565">、博大精深”</tspan></text></g>
<g id="r4-10"><rect x="2067" y="1613" width="198" height="56"/><text><tspan x="2166" y="1623">这些细节往往会作为选择题的干扰项出现：文</tspan><tspan x="2166" y="1635">字的作用与汉字的作用的区别；史书典籍不同</tspan><tspan x="2166" y="1647">于文学著作；汉字的作用与史书典籍的作用的</tspan><tspan x="2166" y="1659">差别。</tspan></text></g>
<g id="r4-11"><rect x="2067" y="1682" width="198" height="68"/><text><tspan x="2166" y="1692">这些细节内容往往会作为选择题的内容出现：</tspan><tspan x="2166" y="1704">文学艺术的作用与科学技术的作用的差别；中</tspan><tspan x="2166" y="1716">国文学艺术和中国古代科学技术的特点的区别</tspan><tspan x="2166" y="1728">；各区域文化差异的成因及各区域文化的关系</tspan><tspan x="2166" y="1740">。</tspan></text></g>
<g id="r4-12"><rect x="2067" y="1763" width="198" height="20"/><text x="2166" y="1773">汉字的发明标志着人类进入文明时代</text></g>
<g id="r4-13"><rect x="2067" y="1795" width="198" height="20"/><text x="2166" y="1805">汉字是中华文化一脉相传的重要见证</text></g>
<g id="r4-14"><rect x="2067" y="1827" width="198" height="20"/><text x="2166" y="1837">文字是中华文明的重要标志</text></g>
<g id="r4-15"><rect x="2067" y="1860" width="198" height="32"/><text><tspan x="2166" y="1870">科学技术对于反映人们的精神生活、展示人们</tspan><tspan x="2166" y="1882">的精神世界有独特作用;</tspan></text></g>
<g id="r4-16"><rect x="2067" y="1905" width="198" height="20"/><text x="2166" y="1915">文学艺术是一个民族文明程度的重要标志</text></g>
<g id="r4-17"><rect x="2067" y="1937" width="198" height="20"/><text x="2166" y="1947">地理环境决定各具特色的地域文化</text></g>
<g id="r4-18"><rect x="2067" y="1970" width="198" height="20"/><text x="2166" y="1980">各区域文化相互交流、借鉴、吸收，趋于同一</text></g>
<g id="r4-19"><rect x="2067" y="2338" width="198" height="32"/><text><tspan x="2166" y="2348">中华文化既有各民族文化的共性，也有自己的</tspan><tspan x="2166" y="2360">个性</tspan></text></g>
<g id="r4-20"><rect x="2067" y="2383" width="198" height="20"/><text x="2166" y="2393">中华文化是中华各民族文化的总和</text></g>
<g id="r4-21"><rect x="2067" y="2415" width="198" height="20"/><text x="2166" y="2425">中华文化是中国经济社会发展的根本动力</text></g>
</g>
<g id="r-l5" class="r">
<g id="r5-1"><rect x="2276" y="1010" width="261" height="32"/><text><tspan x="2406.5" y="1020">我国幅员辽阔，各地自然条件千差万别，经济社会发展程度不</tspan><tspan x="2406.5" y="1032">同</tspan></text></g>
<g id="r5-2"><rect x="2276" y="1055" width="261" height="32"/><text><tspan x="2406.5" y="1065">受历史、地理等因素的影响，各地区的文化带有明显的区域特</tspan><tspan x="2406.5" y="1077">征</tspan></text></g>
<g id="r5-3"><rect x="2276" y="1099" width="261" height="32"/><text><tspan x="2406.5" y="1109">不同区域的文化长期相互交流、借鉴、吸收，既渐趋融合，又</tspan><tspan x="2406.5" y="1121">保持着各自的特色</tspan></text></g>
<g id="r5-4"><rect x="2276" y="1144" width="261" height="32"/><text><tspan x="2406.5" y="1154">中华民族是多民族的共同体，中华文化呈现着各民族文化的丰</tspan><tspan x="2406.5" y="1166">富多彩</tspan></text></g>
<g id="r5-5"><rect x="2276" y="1189" width="261" height="32"/><text><tspan x="2406.5" y="1199">中华各民族的文化，既有中华文化的共性，又有各自的民族特</tspan><tspan x="2406.5" y="1211">性</tspan></text></g>
<g id="r5-6"><rect x="2276" y="1233" width="261" height="32"/><text><tspan x="2406.5" y="1243">它们都是中华民族的文化，它们都是中华文化宝库中的瑰宝，</tspan><tspan x="2406.5" y="1255">都是中华民族的骄傲</tspan></text></g>
<g id="r5-7"><rect x="2276" y="1278" width="261" height="32"/><text><tspan x="2406.5" y="1288">各兄弟民族的文化相互交融、相互促进，共同熔铸了灿烂的中</tspan><tspan x="2406.5" y="1300">华文化</tspan></text></g>
<g id="r5-8"><rect x="2276" y="1411" width="261" height="44"/><text><tspan x="2406.5" y="1421">一是以个性体现共性，如以某种文化产品、某个民族文化、某</tspan><tspan x="2406.5" y="1433">个区域文化、某种文化形式来代表整个中华文化(如：台湾文化</tspan><tspan x="2406.5" y="1445">、徽文化、书画艺术等)</tspan></text></g>
<g id="r5-9"><rect x="2276" y="1468" width="261" height="32"/><text><tspan x="2406.5" y="1478">二是以引文的形式从宏观上总体表述中华文化的特质。往往设</tspan><tspan x="2406.5" y="1490">置说明类、体现类试题，考查中华文化的基本特征</tspan></text></g>
<g id="r5-10"><rect x="2276" y="1513" width="261" height="44"/><text><tspan x="2406.5" y="1523">源远流长强调时间(纵向)的久远，以汉字、史书典籍作为见证，</tspan><tspan x="2406.5" y="1535">见到“几千年”“历史悠久”“传承”“古老”等，一般可以</tspan><tspan x="2406.5" y="1547">判断为源远流长</tspan></text></g>
<g id="r5-11"><rect x="2276" y="1569" width="261" height="32"/><text><tspan x="2406.5" y="1579">博大精深强调内容(横向)的特色，丰富多彩，以</tspan><tspan x="2406.5" y="1591">中华文化的独特性、区域文化、民族文化等为见证</tspan></text></g>
</g>

<g id="y-nodes" class="y">
<g id="y1-1"><rect x="1530" y="2940" width="122" height="20"/><text x="1591" y="2950">考法点评</text></g>
<g id="y1-2"><rect x="1530" y="3100" width="122" height="20"/><text x="1591" y="3110">1.全面理解民族精神</text></g>
<g id="y1-3"><rect x="1530" y="3269" width="122" height="32"/><text><tspan x="1591" y="3279">2.与民族精神有关的几对关</tspan><tspan x="1591" y="3291">系</tspan></text></g>
<g id="y1-4"><rect x="1530" y="3513" width="122" height="20"/><text x="1591" y="3523">考法提示</text></g>
<g id="y2-1"><rect x="1663" y="2872" width="122" height="80"/><text><tspan x="1724" y="2882">以非选择题形式考查中华民</tspan><tspan x="1724" y="2894">族精神的知识时，往往是对</tspan><tspan x="1724" y="2906">民族精神的知识进行综合考</tspan><tspan x="1724" y="2918">查，要求能够综合调动和运</tspan><tspan x="1724" y="2930">用民族精神的相关知识分析</tspan><tspan x="1724" y="2942">解决问题</tspan></text></g>
<g id="y2-2"><rect x="1663" y="2965" width="122" height="44"/><text><tspan x="1724" y="2975">通常的考查角度有：体现、</tspan><tspan x="1724" y="2987">依据(合理性)、意义(重要性)</tspan><tspan x="1724" y="2999">、认识(理解、看法)等</tspan></text></g>
<g id="y2-3"><rect x="1663" y="3022" width="122" height="56"/><text><tspan x="1724" y="3032">(1) 是什么：是一个民族在</tspan><tspan x="1724" y="3044">长期共同生活和社会实践基</tspan><tspan x="1724" y="3056">础上形成的优秀传统文化的</tspan><tspan x="1724" y="3068">结晶。</tspan></text></g>
<g id="y2-4"><rect x="1663" y="3091" width="122" height="44"/><text><tspan x="1724" y="3101">(2) 为什么：弘扬和培育民</tspan><tspan x="1724" y="3113">族精神的原因。（见考点41</tspan><tspan x="1724" y="3125">考法4）</tspan></text></g>
<g id="y2-5"><rect x="1663" y="3147" width="122" height="44"/><text><tspan x="1724" y="3157">(3) 怎么办：弘扬和培育民</tspan><tspan x="1724" y="3169">族精神的措施。（见考点41</tspan><tspan x="1724" y="3181">考法4）</tspan></text></g>
<g id="y2-6"><rect x="1663" y="3216" width="122" height="20"/><text x="1724" y="3226">(1) 民族精神与综合国力</text></g>
<g id="y2-7"><rect x="1663" y="3279" width="122" height="20"/><text x="1724" y="3289">(2) 民族精神与时代精神</text></g>
<g id="y2-8"><rect x="1663" y="3335" width="122" height="20"/><text x="1724" y="3345">(3) 民族精神与中华文化</text></g>
<g id="y2-9"><rect x="1663" y="3374" width="122" height="80"/><text><tspan x="1724" y="3384">(1) 通过能够展示大国形象</tspan><tspan x="1724" y="3396">的名人名言、引文、警句或</tspan><tspan x="1724" y="3408">围绕中华民族的伟大复兴，</tspan><tspan x="1724" y="3420">以选择题形式考查中华民族</tspan><tspan x="1724" y="3432">精神的基本内涵、弘扬和培</tspan><tspan x="1724" y="3444">育民族精神的原因及措施</tspan></text></g>
<g id="y2-10"><rect x="1663" y="3466" width="122" height="32"/><text><tspan x="1724" y="3476">(2) 结合具体的精神考查与</tspan><tspan x="1724" y="3488">中华民族精神的关系</tspan></text></g>
<g id="y2-11"><rect x="1663" y="3511" width="122" height="56"/><text><tspan x="1724" y="3521">(3) 以非选择题形式考查民</tspan><tspan x="1724" y="3533">族精神的具体体现（如工匠</tspan><tspan x="1724" y="3545">精神、长征精神等）与中华</tspan><tspan x="1724" y="3557">民族精神的关系</tspan></text></g>
<g id="y2-12"><rect x="1663" y="3579" width="122" height="104"/><text><tspan x="1724" y="3589">(4) 关于怎样弘扬和培育民</tspan><tspan x="1724" y="3601">族精神，要结合教材知识和</tspan><tspan x="1724" y="3613">题干材料进行分析，从与时</tspan><tspan x="1724" y="3625">代精神相结合、立足于中国</tspan><tspan x="1724" y="3637">特色社会主义的伟大实践、</tspan><tspan x="1724" y="3649">继承和发展中华民族优良传</tspan><tspan x="1724" y="3661">统、发挥人民群众的主体作</tspan><tspan x="1724" y="3673">用等方面进行分析回答</tspan></text></g>
<g id="y3-1"><rect x="1797" y="3204" width="259" height="44"/><text><tspan x="1926.5" y="3214">弘扬和培育民族精神，是不断增强我国国际竞争力的要求。中</tspan><tspan x="1926.5" y="3226">华民族精神作为中华文化的精髓，具有凝聚和动员民族力量、</tspan><tspan x="1926.5" y="3238">展示民族形象的重要功能，是提升我国国际竞争力的重要保证</tspan></text></g>
<g id="y3-2"><rect x="1797" y="3261" width="259" height="56"/><text><tspan x="1926.5" y="3271">民族精神和时代精神，相辅相成，相互支撑，统一于发展中国</tspan><tspan x="1926.5" y="3283">特色社会主义的伟大实践。只有不断注入时代精神，才能使民</tspan><tspan x="1926.5" y="3295">族精神博采众长、日益丰富。只有坚持培育民族精神，才能使</tspan><tspan x="1926.5" y="3307">时代精神不移根基、不失本色</tspan></text></g>
<g id="y3-3"><rect x="1797" y="3329" width="259" height="32"/><text><tspan x="1926.5" y="3339">中华文化的力量，集中表现为民族精神的力量。中华民族精神</tspan><tspan x="1926.5" y="3351">，深深植根于绵延数千年的优秀传统文化之中</tspan></text></g>
</g>

<g id="g-nodes" class="g">
<g id="g1-1"><rect x="895" y="3169" width="124" height="20"/><text x="957" y="3179">考法点评</text></g>
<g id="g1-2"><rect x="895" y="3302" width="124" height="32"/><text><tspan x="957" y="3312">中华文化和中华民族精神的</tspan><tspan x="957" y="3324">知识整合</tspan></text></g>
<g id="g1-3"><rect x="895" y="3480" width="124" height="20"/><text x="957" y="3490">考法提示</text></g>
<g id="g2-1"><rect x="762" y="3101" width="123" height="80"/><text><tspan x="823.5" y="3111">以非选择题形式考查中华文</tspan><tspan x="823.5" y="3123">化和中华民族精神时，往往</tspan><tspan x="823.5" y="3135">是对上述知识进行综合考查</tspan><tspan x="823.5" y="3147">，要求能够综合调动和运用</tspan><tspan x="823.5" y="3159">中华文化和中华民族精神的</tspan><tspan x="823.5" y="3171">相关知识分析解决问题</tspan></text></g>
<g id="g2-2"><rect x="762" y="3194" width="123" height="44"/><text><tspan x="823.5" y="3204">通常的考查角度有：措施类</tspan><tspan x="823.5" y="3216">、认识类(是什么、为什么、</tspan><tspan x="823.5" y="3228">怎么办)</tspan></text></g>
<g id="g2-3"><rect x="762" y="3267" width="123" height="20"/><text x="823.5" y="3277">(1)中华文化的知识包括</text></g>
<g id="g2-4"><rect x="762" y="3348" width="123" height="20"/><text x="823.5" y="3358">(2)民族精神的知识包括</text></g>
<g id="g2-5"><rect x="762" y="3413" width="123" height="56"/><text><tspan x="823.5" y="3423">以非选择题形式考查中华文</tspan><tspan x="823.5" y="3435">化与中华民族精神时，注意</tspan><tspan x="823.5" y="3447">熟练掌握中华文化的特点和</tspan><tspan x="823.5" y="3459">中华民族精神的重要性</tspan></text></g>
<g id="g2-6"><rect x="762" y="3493" width="123" height="92"/><text><tspan x="823.5" y="3503">关于中华文化和中华民族精</tspan><tspan x="823.5" y="3515">神的综合考查，要结合教材</tspan><tspan x="823.5" y="3527">知识和题干材料进行分析，</tspan><tspan x="823.5" y="3539">从中华文化的特点、中华民</tspan><tspan x="823.5" y="3551">族精神的内涵及弘扬和培育</tspan><tspan x="823.5" y="3563">民族精神的原因和措施等方</tspan><tspan x="823.5" y="3575">面进行分析回答</tspan></text></g>
<g id="g3-1"><rect x="495" y="3250" width="257" height="20"/><text x="623.5" y="3260">中华文化源远流长、博大精深，中华文化的包容性</text></g>
<g id="g3-2"><rect x="495" y="3283" width="257" height="20"/><text x="623.5" y="3293">中华各民族对中华文化的贡献</text></g>
<g id="g3-3"><rect x="495" y="3315" width="257" height="20"/><text x="623.5" y="3325">①是什么：中华民族精神的基本内涵</text></g>
<g id="g3-4"><rect x="495" y="3348" width="257" height="20"/><text x="623.5" y="3358">②为什么：弘扬和培育民族精神的原因(必要性、重要性)</text></g>
<g id="g3-5"><rect x="495" y="3380" width="257" height="20"/><text x="623.5" y="3390">③怎么办：弘扬和培育民族精神的措施</text></g>
</g>
</svg>
